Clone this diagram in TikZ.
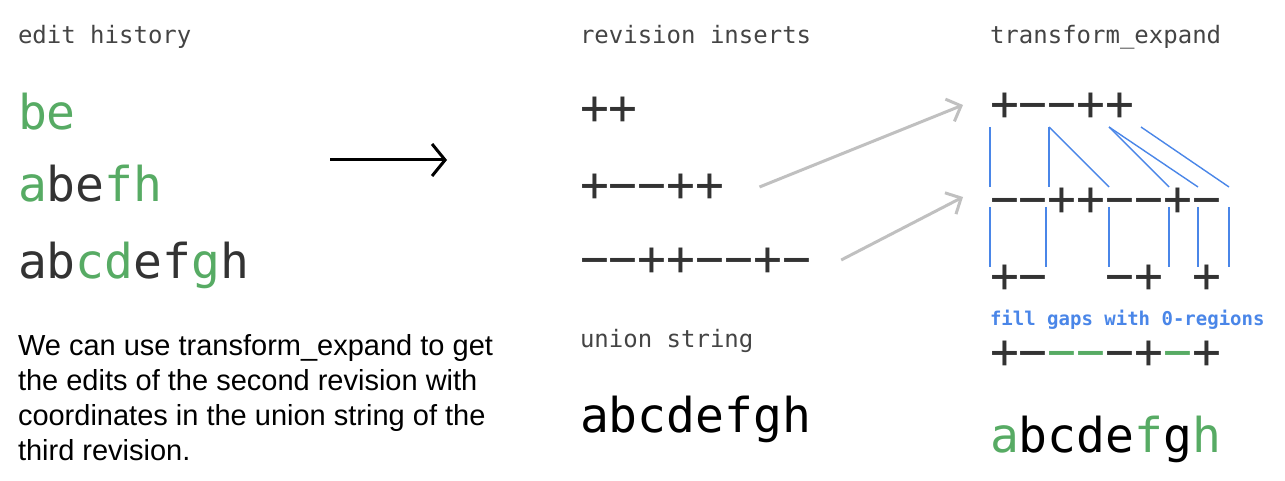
\documentclass[tikz,border=0pt]{standalone}
\usepackage{fontspec}
\setmainfont{Liberation Sans}
\setmonofont{DejaVu Sans Mono}
\usetikzlibrary{arrows.meta}
\definecolor{editgreen}{RGB}{87,171,100}
\definecolor{gapblue}{RGB}{74,134,232}
\definecolor{inkgray}{RGB}{51,51,51}
\definecolor{titlegray}{RGB}{68,68,68}
\definecolor{arrowgray}{RGB}{192,192,192}
\newcommand{\grn}[1]{\textcolor{editgreen}{#1}}

\begin{document}
\begin{tikzpicture}[x=1pt,y=1pt]
\tikzstyle{every node}=[inner sep=0pt, outer sep=0pt]
\tikzstyle{title}=[anchor=base west, font=\ttfamily\fontsize{24}{24}\selectfont, text=titlegray]
\tikzstyle{big}=[anchor=base west, font=\ttfamily\fontsize{48}{48}\selectfont, text=inkgray]
\tikzstyle{signs}=[anchor=west, font=\ttfamily\fontsize{48}{48}\selectfont, text=inkgray]
\tikzstyle{gap}=[gapblue, line width=1.4pt]
\tikzstyle{feed}=[arrowgray, line width=3pt, -{Straight Barb[length=12pt,width=24pt]}]
\useasboundingbox (0,0) rectangle (1285,-481);
% titles
\node (hist) [title] at (18,-44) {edit history};
\node (ins) [title] at (580,-44) {revision inserts};
\node (exp) [title] at (990,-44) {transform\_expand};
% edit history
\node (e1) [big] at (18,-130) {\grn{be}};
\node (e2) [big] at (18,-202) {\grn{a}be\grn{fh}};
\node (e3) [big] at (18,-278) {ab\grn{cd}ef\grn{g}h};
\coordinate (a0) at (330,-160);
\coordinate (a1) at (447,-160);
\draw[line width=3pt, -{Straight Barb[length=13pt,width=32pt]}] (a0) -- (a1);
\node (note) [anchor=base west, align=left, font=\fontsize{29}{35}\selectfont] at (18,-460)
  {We can use transform\_expand to get\\the edits of the second revision with\\coordinates in the union string of the\\third revision.};
% revision inserts
\node (r1) [signs] at (580,-111) {++};
\node (r2) [signs] at (580,-188) {+−−++};
\node (r3) [signs] at (580,-262) {−−++−−+−};
\node (uni) [title] at (580,-347) {union string};
\node (ustr) [big, text=black] at (580,-432) {abcdefgh};
% transform_expand
\node (t1) [signs] at (990,-107) {+−−++};
\node (t2) [signs] at (990,-202) {−−++−−+−};
\node (t3) [signs] at (990,-279) {+−~~−+~+};
\node (fill) [anchor=base west, font=\ttfamily\bfseries\fontsize{19}{19}\selectfont, text=gapblue] at (990,-325) {fill gaps with 0-regions};
\node (t4) [signs] at (990,-355) {+−\grn{−−}−+\grn{−}+};
\node (t5) [big, text=black] at (990,-452) {\grn{a}bcde\grn{f}g\grn{h}};
\draw[feed] ([xshift=35pt,yshift=1pt]r2.east) -- ([xshift=-27pt,yshift=2pt]t1.west);
\draw[feed] ([xshift=30pt,yshift=2pt]r3.east) -- ([xshift=-27pt,yshift=5pt]t2.west);
\foreach \a/\b in {990/990, 1049/1049, 1049/1109, 1109/1169, 1109/1198, 1141/1229}
  \draw[gap] (\a,-127) -- (\b,-187);
\foreach \a in {990, 1046, 1109, 1169, 1198, 1229}
  \draw[gap] (\a,-207) -- (\a,-267);
\end{tikzpicture}
\end{document}
